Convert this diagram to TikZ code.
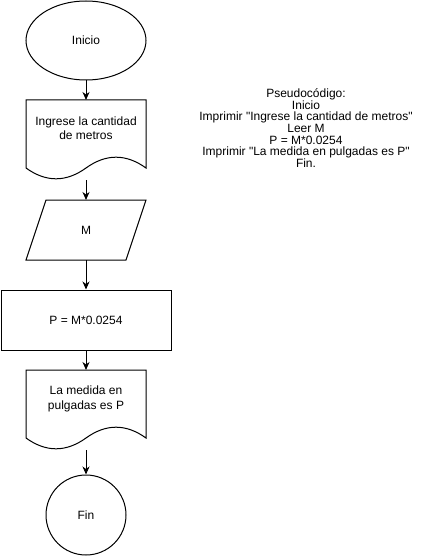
\documentclass[tikz,border=0pt]{standalone}
\usepackage{fontspec}
\setmainfont{Liberation Sans}[Ligatures=TeXOff]
\usetikzlibrary{arrows.meta,shapes.geometric}
\begin{document}
\begin{tikzpicture}[x=1pt,y=-1pt,
  outline/.style={draw=black,line width=1pt,fill=white},
  anchorbox/.style={inner sep=0pt,outer sep=0pt,minimum width=#1},
  lbl/.style={font=\fontsize{12pt}{14.3pt}\selectfont,align=center,text=black},
  flow/.style={draw=black,line width=1pt,-{Stealth[length=8pt,width=7pt,inset=2.5pt]}}]
\useasboundingbox (0,0) rectangle (426,556);
% Inicio
\node[ellipse,outline,minimum width=120pt,minimum height=79pt,inner sep=0pt,lbl] (inicio) at (86,40.5) {Inicio};
% document 1
\draw[outline] (26,100) -- (146,100) -- (146,168)
  .. controls (126,153.6) and (106,153.6) .. (86,168)
  .. controls (66,182.4) and (46,182.4) .. (26,168) -- cycle;
\node[anchorbox=120pt,minimum height=80pt] (doc1) at (86,140) {};
\node[lbl] (doc1t) at (86,128.5) {Ingrese la cantidad\\de metros};
% parallelogram
\draw[outline] (46,200) -- (146,200) -- (126,260) -- (26,260) -- cycle;
\node[anchorbox=120pt,minimum height=60pt,lbl] (leer) at (86,230) {M};
% process
\node[rectangle,outline,minimum width=170pt,minimum height=60pt,inner sep=0pt,lbl] (proc) at (86,320) {P = M*0.0254};
% document 2
\draw[outline] (26,370) -- (146,370) -- (146,438)
  .. controls (126,423.6) and (106,423.6) .. (86,438)
  .. controls (66,452.4) and (46,452.4) .. (26,438) -- cycle;
\node[anchorbox=120pt,minimum height=80pt] (doc2) at (86,410) {};
\node[lbl] (doc2t) at (86,399) {La medida en\\pulgadas es P};
% Fin
\node[circle,outline,minimum size=80pt,inner sep=0pt,lbl] (fin) at (86,515) {Fin};
% connectors
\draw[flow] (inicio.south) -- (doc1.north);
\draw[flow] (doc1.south) -- (leer.north);
\draw[flow] (leer.south) -- (proc.north);
\draw[flow] (proc.south) -- (doc2.north);
\draw[flow] (doc2.south) -- (fin.north);
% pseudocode
\node[font=\fontsize{12pt}{11.67pt}\selectfont,align=center,text=black] (pseudo) at (306,128)
{Pseudocódigo:\\Inicio\\Imprimir "Ingrese la cantidad de metros"\\Leer M\\P = M*0.0254\\Imprimir "La medida en pulgadas es P"\\Fin.};
\end{tikzpicture}
\end{document}
